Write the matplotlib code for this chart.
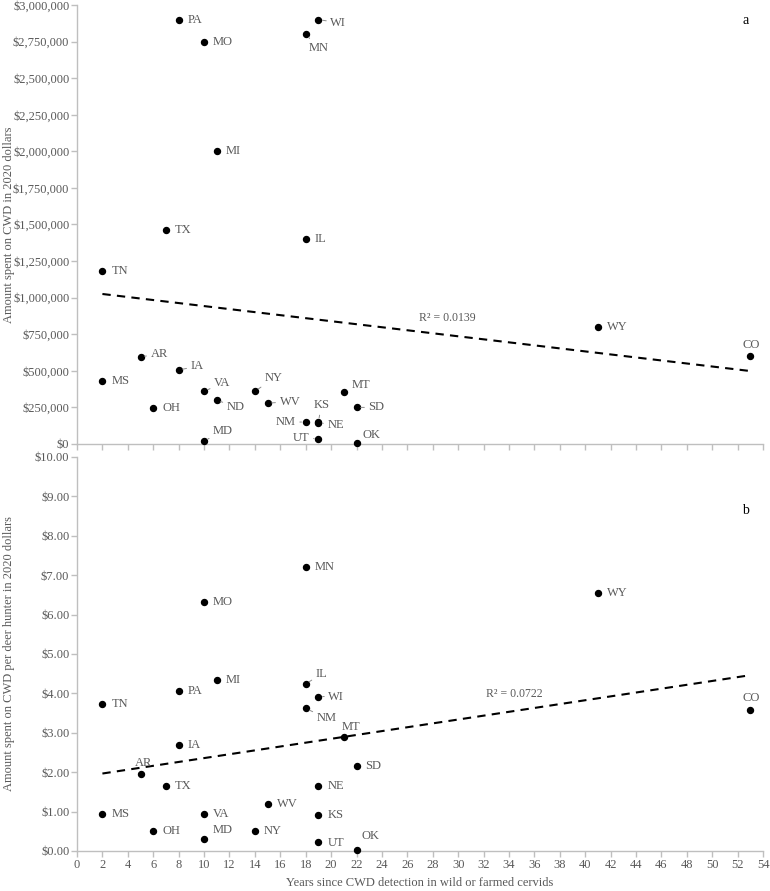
import matplotlib
matplotlib.use("Agg")
import matplotlib.pyplot as plt
import numpy as np
from matplotlib.ticker import FuncFormatter, MultipleLocator

plt.rcParams['font.family'] = ['Liberation Serif', 'DejaVu Serif']

# ---------------- data ----------------
states_a = ["PA", "WI", "MO", "MN", "MI", "TX", "IL", "TN", "WY", "CO", "AR", "IA", "MS",
            "VA", "NY", "MT", "ND", "WV", "OH", "SD", "NM", "KS", "NE", "UT", "MD", "OK"]
years_a = [8, 19, 10, 18, 11, 7, 18, 2, 41, 53, 5, 8, 2,
           10, 14, 21, 11, 15, 6, 22, 18, 19, 19, 19, 10, 22]
spent_a = [2900000, 2900000, 2750000, 2800000, 2000000, 1460000, 1400000, 1180000, 800000,
           600000, 595000, 505000, 430000, 360000, 360000, 355000, 300000, 280000, 245000,
           250000, 150000, 150000, 145000, 35000, 20000, 5000]
r2_a = "R² = 0.0139"

states_b = ["MN", "WY", "MO", "MI", "IL", "PA", "WI", "TN", "NM", "CO", "MT", "IA", "SD",
            "AR", "TX", "NE", "WV", "MS", "VA", "KS", "OH", "NY", "MD", "UT", "OK"]
years_b = [18, 41, 10, 11, 18, 8, 19, 2, 18, 53, 21, 8, 22,
           5, 7, 19, 15, 2, 10, 19, 6, 14, 10, 19, 22]
spent_b = [7.22, 6.54, 6.31, 4.35, 4.24, 4.07, 3.92, 3.72, 3.62, 3.58, 2.89, 2.69, 2.16,
           1.96, 1.65, 1.65, 1.20, 0.94, 0.94, 0.91, 0.51, 0.51, 0.30, 0.23, 0.03]
r2_b = "R² = 0.0722"

x_ticks = list(range(0, 55, 2))

# ---------------- layout (label offsets in pixels: dx, dy, ha, leader) ----------------
off_a = {
    "PA": (9, 0, 'left', False), "WI": (12, -3, 'left', True), "MO": (9, 0, 'left', False),
    "MN": (13, -14, 'center', True), "MI": (9, 0, 'left', False), "TX": (9, 0, 'left', False),
    "IL": (9, 0, 'left', False), "TN": (9, 0, 'left', False), "WY": (9, 0, 'left', False),
    "CO": (1, 11, 'center', False), "AR": (10, 3, 'left', True), "IA": (12, 4, 'left', True),
    "MS": (9, 0, 'left', False), "VA": (10, 8, 'left', True), "NY": (10, 13, 'left', True),
    "MT": (8, 7, 'left', True), "ND": (10, -7, 'left', True), "WV": (12, 1, 'left', True),
    "OH": (9, 0, 'left', False), "SD": (12, 0, 'left', True), "NM": (-10, 0, 'right', True),
    "KS": (3, 17, 'center', True), "NE": (9, -2, 'left', True), "UT": (-9, 1, 'right', True),
    "MD": (9, 10, 'left', True), "OK": (6, 8, 'left', False),
}
off_b = {
    "MN": (9, 0, 'left', False), "WY": (9, 0, 'left', False), "MO": (9, 0, 'left', False),
    "MI": (9, 0, 'left', False), "IL": (10, 10, 'left', True), "PA": (9, 0, 'left', False),
    "WI": (10, 0, 'left', True), "TN": (9, 0, 'left', False), "NM": (11, -10, 'left', True),
    "CO": (1, 12, 'center', False), "MT": (7, 10, 'center', False), "IA": (9, 0, 'left', False),
    "SD": (9, 0, 'left', False), "AR": (3, 11, 'center', False), "TX": (9, 0, 'left', False),
    "NE": (9, 0, 'left', False), "WV": (9, 0, 'left', False), "MS": (9, 0, 'left', False),
    "VA": (9, 0, 'left', False), "KS": (9, 0, 'left', False), "OH": (9, 0, 'left', False),
    "NY": (9, 0, 'left', False), "MD": (9, 9, 'left', False), "UT": (9, -1, 'left', False),
    "OK": (5, 14, 'left', False),
}

GRAY_TXT = '#595959'
GRAY_AX = '#bfbfbf'
FS_TICK = 9
FS_LAB = 9

fig = plt.figure(figsize=(7.7, 8.91), dpi=100)
ax1 = fig.add_axes([0.1, 0.5017, 0.891, 0.4927])
ax2 = fig.add_axes([0.1, 0.0449, 0.891, 0.4422])


def style(ax):
    for s in ['top', 'right']:
        ax.spines[s].set_visible(False)
    for s in ['left', 'bottom']:
        ax.spines[s].set_color(GRAY_AX)
        ax.spines[s].set_linewidth(1.0)
    ax.tick_params(axis='both', direction='out', color=GRAY_AX, length=4, width=1,
                   labelcolor=GRAY_TXT, labelsize=FS_TICK, pad=1.5)
    ax.set_xlim(0, 54)
    ax.xaxis.set_major_locator(MultipleLocator(2))


def draw(ax, states, xs, ys, offs, r2, r2pos):
    ax.plot(xs, ys, 'o', color='black', ms=4.3, zorder=3, clip_on=False)
    for s, x, y in zip(states, xs, ys):
        dx, dy, ha, lead = offs[s]
        kw = {}
        if lead:
            kw['arrowprops'] = dict(arrowstyle='-', color='#8c8c8c', lw=0.7,
                                    shrinkA=1, shrinkB=3)
        ax.annotate(s, (x, y), xytext=(dx, dy), textcoords='offset pixels',
                    ha=ha, va='center', fontsize=FS_LAB, color=GRAY_TXT, **kw)
    coef = np.polyfit(xs, ys, 1)
    xl = np.array([min(xs), max(xs)])
    ax.plot(xl, np.polyval(coef, xl), color='black', lw=1.5, dashes=(4, 3), zorder=2)
    ax.text(r2pos[0], r2pos[1], r2, transform=ax.transAxes, fontsize=8.5,
            color=GRAY_TXT, ha='left', va='center')


style(ax1)
draw(ax1, states_a, years_a, spent_a, off_a, r2_a, (0.4985, 0.287))
ax1.set_ylim(0, 3000000)
ax1.yaxis.set_major_locator(MultipleLocator(250000))
ax1.yaxis.set_major_formatter(FuncFormatter(lambda v, p: f"${v:,.0f}"))
ax1.tick_params(axis='x', labelbottom=False)
ax1.set_ylabel("Amount spent on CWD in 2020 dollars", fontsize=FS_TICK, color=GRAY_TXT)
ax1.yaxis.set_label_coords(-0.09, 0.5)
ax1.text(0.975, 0.965, "a", transform=ax1.transAxes, fontsize=10, ha='center', va='center')

style(ax2)
draw(ax2, states_b, years_b, spent_b, off_b, r2_b, (0.596, 0.398))
ax2.set_ylim(0, 10)
ax2.yaxis.set_major_locator(MultipleLocator(1))
ax2.yaxis.set_major_formatter(FuncFormatter(lambda v, p: f"${v:.2f}"))
ax2.set_xticks(x_ticks)
ax2.set_ylabel("Amount spent on CWD per deer hunter in 2020 dollars", fontsize=FS_TICK,
               color=GRAY_TXT)
ax2.yaxis.set_label_coords(-0.09, 0.5)
ax2.set_xlabel("Years since CWD detection in wild or farmed cervids", fontsize=FS_TICK,
               color=GRAY_TXT)
ax2.xaxis.set_label_coords(0.5, -0.081)
ax2.xaxis.label.set_va('center')
ax2.text(0.975, 0.865, "b", transform=ax2.transAxes, fontsize=10, ha='center', va='center')

fig.savefig("out.png", dpi=100)
